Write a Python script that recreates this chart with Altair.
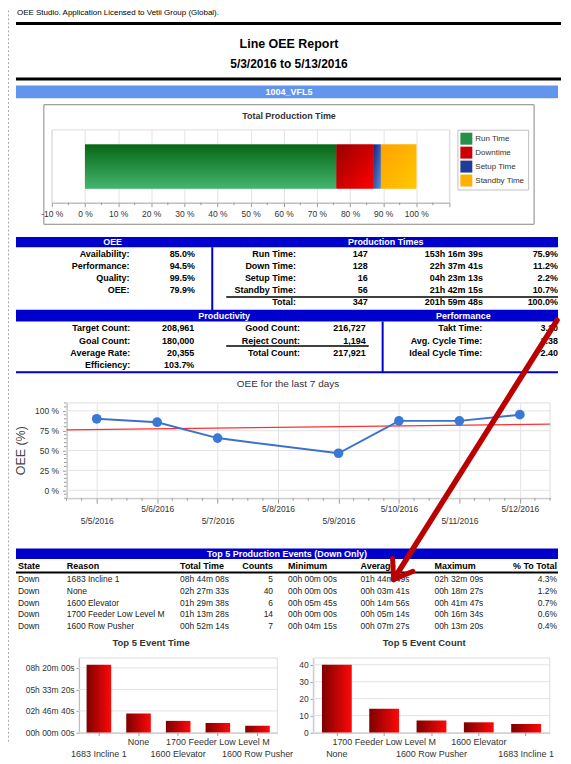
import json
import math
import altair as alt
import pandas as pd

FONT = "Liberation Sans"
W = 555
BLUE = "#0000cc"
ONE = pd.DataFrame({"k": [0]})

# ------------------------------------------------------------------ data
license_text = "OEE Studio. Application Licensed to Vetii Group (Global)."
report_title = "Line OEE Report"
report_range = "5/3/2016 to 5/13/2016"
line_name = "1004_VFL5"

time_categories = ["Run Time", "Downtime", "Setup Time", "Standby Time"]
time_pct = [75.9, 11.2, 2.2, 10.7]

oee_labels = ["Availability:", "Performance:", "Quality:", "OEE:"]
oee_values = ["85.0%", "94.5%", "99.5%", "79.9%"]

pt_labels = ["Run Time:", "Down Time:", "Setup Time:", "Standby Time:", "Total:"]
pt_counts = ["147", "128", "16", "56", "347"]
pt_durations = ["153h 16m 39s", "22h 37m 41s", "04h 23m 13s", "21h 42m 15s", "201h 59m 48s"]
pt_pct = ["75.9%", "11.2%", "2.2%", "10.7%", "100.0%"]

prod_labels = ["Target Count:", "Goal Count:", "Average Rate:", "Efficiency:"]
prod_values = ["208,961", "180,000", "20,355", "103.7%"]
count_labels = ["Good Count:", "Reject Count:", "Total Count:"]
count_values = ["216,727", "1,194", "217,921"]
perf_labels = ["Takt Time:", "Avg. Cycle Time:", "Ideal Cycle Time:"]
perf_values = ["3.10", "3.38", "2.40"]

trend_dates = ["5/5/2016", "5/6/2016", "5/7/2016", "5/9/2016", "5/10/2016", "5/11/2016", "5/12/2016"]
trend_oee = [90.0, 85.7, 65.7, 46.6, 87.4, 87.4, 95.2]
trend_tick_labels = ["5/5/2016", "5/6/2016", "5/7/2016", "5/8/2016",
                     "5/9/2016", "5/10/2016", "5/11/2016", "5/12/2016"]
oee_ticks = [0, 25, 50, 75, 100]

ev_headers = ["State", "Reason", "Total Time", "Counts", "Minimum", "Average", "Maximum", "% To Total"]
ev_state = ["Down", "Down", "Down", "Down", "Down"]
ev_reason = ["1683 Incline 1", "None", "1600 Elevator", "1700 Feeder Low Level M", "1600 Row Pusher"]
ev_total = ["08h 44m 08s", "02h 27m 33s", "01h 29m 38s", "01h 13m 28s", "00h 52m 14s"]
ev_counts = [5, 40, 6, 14, 7]
ev_min = ["00h 00m 00s", "00h 00m 00s", "00h 05m 45s", "00h 00m 00s", "00h 04m 15s"]
ev_avg = ["01h 44m 49s", "00h 03m 41s", "00h 14m 56s", "00h 05m 14s", "00h 07m 27s"]
ev_max = ["02h 32m 09s", "00h 18m 27s", "00h 41m 47s", "00h 16m 34s", "00h 13m 20s"]
ev_pct = ["4.3%", "1.2%", "0.7%", "0.6%", "0.4%"]
event_time_ticks = [0, 10000, 20000, 30000]
event_count_ticks = [0, 10, 20, 30, 40]


# ------------------------------------------------------------------ helpers
def txt(s, x, y, size=9.0, bold=False, color="#000000", align="center", angle=0):
    return alt.Chart(ONE).mark_text(
        text=s, font=FONT, fontSize=size, fontWeight="bold" if bold else "normal",
        color=color, align=align, baseline="middle", angle=angle
    ).encode(x=alt.value(x), y=alt.value(y))


def hline(x1, x2, y, color="#000000", w=1.0):
    return alt.Chart(ONE).mark_rule(color=color, strokeWidth=w).encode(
        x=alt.value(x1), x2=alt.value(x2), y=alt.value(y))


def vline(x, y1, y2, color="#000000", w=1.0, dash=None):
    kw = {"color": color, "strokeWidth": w}
    if dash:
        kw["strokeDash"] = dash
    return alt.Chart(ONE).mark_rule(**kw).encode(
        x=alt.value(x), y=alt.value(y1), y2=alt.value(y2))


def seg(p, q, color, w):
    return alt.Chart(ONE).mark_rule(color=color, strokeWidth=w, strokeCap="round").encode(
        x=alt.value(p[0]), y=alt.value(p[1]), x2=alt.value(q[0]), y2=alt.value(q[1]))


def rect(x1, x2, y1, y2, fill="transparent", stroke="transparent", sw=1.0):
    return alt.Chart(ONE).mark_rect(fill=fill, stroke=stroke, strokeWidth=sw).encode(
        x=alt.value(x1), x2=alt.value(x2), y=alt.value(y1), y2=alt.value(y2))


def column(values, x, align="right", bold=True, size=9.0, color="#000000"):
    d = pd.DataFrame({"r": list(range(len(values))), "t": [str(v) for v in values]})
    return alt.Chart(d).mark_text(
        font=FONT, fontSize=size, fontWeight="bold" if bold else "normal",
        color=color, align=align, baseline="middle"
    ).encode(x=alt.value(x), y=alt.Y("r:O", axis=None), text="t:N")


def spacer(h):
    return alt.Chart(ONE).mark_text(text="").encode(
        x=alt.value(0), y=alt.value(0)).properties(width=W, height=h)


def grad(c1, c2, x2=0, y2=1):
    return alt.LinearGradient(gradient="linear", x1=0, y1=0, x2=x2, y2=y2,
                              stops=[alt.GradientStop(offset=0, color=c1),
                                     alt.GradientStop(offset=1, color=c2)])


def to_secs(s):
    h, m, sec = [int(p[:-1]) for p in s.split()]
    return h * 3600 + m * 60 + sec


TICK = "#999999"

# ------------------------------------------------------------------ R1 header
H1 = 120.8
r1 = alt.layer(
    vline(0.5, 1, 736, color="#aaaaaa", dash=[2, 2]),
    txt(license_text, 9, 4, size=8, align="left"),
    hline(8, W, 14.2, w=3),
    txt(report_title, 282, 35, size=12.5, bold=True),
    txt(report_range, 282, 55, size=12, bold=True),
    hline(8, W, 70, w=3),
    rect(8, 552, 76.3, 89.3, fill="#6495ed"),
    txt(line_name, 282, 82.8, size=9, bold=True, color="#ffffff"),
).properties(width=W, height=H1)

# ------------------------------------------------------------------ R2 total production time
pt_df = pd.DataFrame({"cat": time_categories, "pct": time_pct,
                      "idx": list(range(len(time_categories)))})
stacked = alt.Chart(pt_df).transform_window(
    cum="sum(pct)", sort=[alt.SortField("idx")], frame=[None, 0]
).transform_calculate(start="datum.cum - datum.pct")

H2 = 73
x_pt = alt.Scale(domain=[-10, 110], range=[44, 443], nice=False, zero=False)
ax_pt = alt.Axis(
    values=list(range(-10, 111, 10)), title=None,
    labelExpr="datum.value <= 100 ? datum.value + ' %' : ''",
    tickSize=4, grid=True, gridColor="#e3e3e3",
    labelFontSize=8.5, labelPadding=3, labelOverlap=False, labelFlush=False,
)
time_solid = ["#25904a", "#cc0000", "#1f3c96", "#ffb000"]
time_grads = [grad("#086614", "#42b56e", 0, 1), grad("#990000", "#ff0000", 1, 1),
              grad("#14238a", "#5b8fd3", 1, 1), grad("#ffa200", "#ffc800", 1, 1)]
BAR_Y = dict(y=alt.value(14.7), y2=alt.value(58.7))
legend_layer = stacked.mark_bar().encode(
    x=alt.X("start:Q", scale=x_pt, axis=ax_pt), x2="cum:Q",
    color=alt.Color("cat:N", scale=alt.Scale(domain=time_categories, range=time_solid),
                    legend=alt.Legend(title=None, orient="none", legendX=451, legendY=H1,
                                      direction="vertical", symbolType="square", symbolSize=144,
                                      symbolStrokeWidth=0, labelFontSize=8, labelColor="#333333",
                                      rowPadding=2, padding=3, labelOffset=3,
                                      strokeColor="#c0c0c0", fillColor="#ffffff")),
    **BAR_Y,
)
grad_layers = [
    stacked.transform_filter(alt.datum.cat == c).mark_bar(color=g).encode(
        x=alt.X("start:Q", scale=x_pt, axis=ax_pt), x2="cum:Q", **BAR_Y)
    for c, g in zip(time_categories, time_grads)
]
minor2 = alt.Chart(pd.DataFrame({"m": [v for v in range(-10, 111, 5) if v % 10]})).mark_rule(
    color=TICK).encode(x=alt.X("m:Q", scale=x_pt, axis=ax_pt), y=alt.value(H2), y2=alt.value(H2 + 2.5))
r2 = alt.layer(
    rect(36, 528, -25.3, 94.7, stroke="#888888"),
    txt("Total Production Time", 282, -14.3, size=9, bold=True, color="#333333"),
    rect(44, 443, 0, H2, stroke="#dddddd"),
    legend_layer, *grad_layers, minor2,
).properties(width=W, height=H2)

# ------------------------------------------------------------------ R4 OEE / production times
r4 = alt.layer(
    rect(8, 552, -11.5, -1.3, fill=BLUE),
    txt("OEE", 105, -6.4, bold=True, color="#ffffff"),
    txt("Production Times", 379, -6.4, bold=True, color="#ffffff"),
    vline(205, -1.3, 62, color=BLUE, w=2),
    hline(219, 552, 48.7, w=1.5),
    column(oee_labels, 122), column(oee_values, 187.7),
    column(pt_labels, 289), column(pt_counts, 361),
    column(pt_durations, 476.7), column(pt_pct, 552),
).properties(width=W, height=60)

# ------------------------------------------------------------------ R6 productivity / performance
r6 = alt.layer(
    rect(8, 552, -12.5, -0.7, fill=BLUE),
    txt("Productivity", 217, -6.3, bold=True, color="#ffffff"),
    txt("Performance", 457, -6.3, bold=True, color="#ffffff"),
    vline(376, -0.7, 51, color=BLUE, w=2),
    hline(8, 552, 50.2, color=BLUE, w=2),
    hline(219, 362, 23.8, w=1.5),
    column(prod_labels, 122.7), column(prod_values, 187),
    column(count_labels, 293), column(count_values, 359),
    column(perf_labels, 476), column(perf_values, 552),
).properties(width=W, height=49.6)

# ------------------------------------------------------------------ R8 OEE line chart
tr = pd.DataFrame({"date": trend_dates, "oee": trend_oee})
tr["day"] = pd.to_datetime(tr["date"], format="%m/%d/%Y").dt.day.astype(float)
first_day = int(pd.to_datetime(trend_tick_labels[0], format="%m/%d/%Y").day)
last_day = first_day + len(trend_tick_labels) - 1
x_lo, x_hi = first_day - 0.5, last_day + 0.5
arr = json.dumps(trend_tick_labels)
H8 = 95.6
XL8, XR8 = 58.7, 544
xs = alt.Scale(domain=[x_lo, x_hi], range=[XL8, XR8], nice=False, zero=False)
ys = alt.Scale(domain=[-10, 110], nice=False, zero=False)
x_axis8 = alt.Axis(
    values=list(range(first_day, last_day + 1)), title=None,
    labelExpr=(f"(datum.value - {first_day}) % 2 == 0 ? "
               f"['', {arr}[datum.value - {first_day}]] : {arr}[datum.value - {first_day}]"),
    tickSize=5, grid=True, gridColor="#e3e3e3",
    labelFontSize=8.5, labelPadding=1, labelBaseline="top", labelLineHeight=12.5,
    labelOverlap=False, labelFlush=False,
)
y_axis8 = alt.Axis(
    values=oee_ticks, title=None, orient="left", offset=-XL8,
    labelExpr="datum.value + ' %'", tickSize=4,
    grid=False, labelFontSize=8.5, labelPadding=4, labelOverlap=False, labelFlush=False,
)
X8 = alt.X("day:Q", scale=xs, axis=x_axis8)
Y8 = alt.Y("oee:Q", scale=ys, axis=y_axis8)
grid8 = alt.Chart(pd.DataFrame({"v": oee_ticks})).mark_rule(color="#e3e3e3").encode(
    y=alt.Y("v:Q", scale=ys, axis=y_axis8), x=alt.value(XL8), x2=alt.value(XR8))
xminor8 = [x_lo + 0.25 * i for i in range(int((x_hi - x_lo) / 0.25) + 1)]
xminor8 = [v for v in xminor8 if v % 1 != 0]
minorx8 = alt.Chart(pd.DataFrame({"m": xminor8})).mark_rule(color=TICK).encode(
    x=alt.X("m:Q", scale=xs, axis=x_axis8), y=alt.value(H8), y2=alt.value(H8 + 2.5))
yminor8 = [v for v in range(-10, 111, 5) if v not in oee_ticks]
minory8 = alt.Chart(pd.DataFrame({"m": yminor8})).mark_rule(color=TICK).encode(
    y=alt.Y("m:Q", scale=ys, axis=y_axis8), x=alt.value(XL8 - 2.5), x2=alt.value(XL8))
trend = alt.Chart(tr).transform_regression("day", "oee", extent=[x_lo, x_hi]).mark_line(
    color="#ff3030", strokeWidth=1.2).encode(x=X8, y=Y8)
line8 = alt.Chart(tr).mark_line(color="#3b70cf", strokeWidth=2).encode(x=X8, y=Y8)
pts8 = alt.Chart(tr).mark_circle(size=95, color="#3a78d6", opacity=1).encode(x=X8, y=Y8)
r8 = alt.layer(
    grid8, rect(XL8, XR8, 0, H8, stroke="#dddddd"), minorx8, minory8, trend, line8, pts8,
    txt("OEE for the last 7 days", 281, -18.7, size=10, color="#333333"),
    txt("OEE (%)", 13, 48, size=12.5, color="#444444", angle=270),
).properties(width=W, height=H8)

# ------------------------------------------------------------------ R10 events table (+ arrow)
hdr_pos = [(10, "left"), (59, "left"), (172.7, "left"), (266, "right"),
           (281, "left"), (353.8, "left"), (428, "left"), (551, "right")]
ev_cols = [ev_state, ev_reason, ev_total, ev_counts, ev_min, ev_avg, ev_max, ev_pct]
tip = (387.0, 6.2)
tail = (551.0, -254.0)
ux, uy = tail[0] - tip[0], tail[1] - tip[1]
L = math.hypot(ux, uy)
ux, uy = ux / L, uy / L
arms = []
for ang in (35, -35):
    a = math.radians(ang)
    ax_ = ux * math.cos(a) - uy * math.sin(a)
    ay_ = ux * math.sin(a) + uy * math.cos(a)
    arms.append((tip[0] + 21 * ax_, tip[1] + 21 * ay_))
RED = "#bb0000"
r10 = alt.layer(
    rect(8, 552, -24.8, -14.3, fill=BLUE),
    txt("Top 5 Production Events (Down Only)", 280, -19.5, bold=True, color="#ffffff"),
    *[txt(h, x, -7.8, bold=True, align=a) for h, (x, a) in zip(ev_headers, hdr_pos)],
    hline(8, 552, -0.8, w=2),
    *[column(c, x, align=a, bold=False, size=8.5, color="#222222") for c, (x, a) in zip(ev_cols, hdr_pos)],
    seg(tail, tip, RED, 5.5), seg(tip, arms[0], RED, 5), seg(tip, arms[1], RED, 5),
).properties(width=W, height=59)

# ------------------------------------------------------------------ R12 bottom bar charts
H12 = 74.7
secs = [to_secs(s) for s in ev_total]
et = pd.DataFrame({"reason": ev_reason, "secs": secs}).sort_values("secs", ascending=False)
ct = pd.DataFrame({"reason": ev_reason, "n": ev_counts}).sort_values("n", ascending=False)
time_order = list(et["reason"])
count_order = list(ct["reason"])
bar_grad = grad("#7d0000", "#ff0808", 1, 0)


def stagger(order):
    return f"indexof({json.dumps(order)}, datum.value) % 2 == 0 ? ['', datum.value] : datum.value"


def x_axis_b(order):
    return alt.Axis(orient="bottom", title=None, labelExpr=stagger(order), labelFontSize=9,
                    labelBaseline="top", labelLineHeight=11.5, labelPadding=2.5, tickSize=3,
                    labelAngle=0, labelOverlap=False, labelFlush=False, labelLimit=0)


fmt = ("(floor(datum.value/3600) < 10 ? '0' : '') + floor(datum.value/3600) + 'h ' + "
       "(floor(datum.value%3600/60) < 10 ? '0' : '') + floor(datum.value%3600/60) + 'm ' + "
       "(floor(datum.value%60) < 10 ? '0' : '') + floor(datum.value%60) + 's'")
LX1, LX2 = 71.3, 270.3
RX1, RX2 = 306.3, 543.7
xL = alt.Scale(domain=time_order, range=[LX1, LX2], paddingInner=0.38, paddingOuter=0.19)
yL = alt.Scale(domain=[0, max(secs) * 1.1], nice=False, zero=True)
yL_axis = alt.Axis(orient="left", offset=-LX1, values=event_time_ticks, title=None,
                   labelExpr=fmt, labelFontSize=8.5, tickSize=3, grid=False, labelPadding=2)
left = alt.layer(
    alt.Chart(pd.DataFrame({"v": event_time_ticks})).mark_rule(color="#e3e3e3").encode(
        y=alt.Y("v:Q", scale=yL, axis=yL_axis), x=alt.value(LX1), x2=alt.value(LX2)),
    rect(LX1, LX2, 0, H12, stroke="#dddddd"),
    alt.Chart(et).mark_bar(color=bar_grad).encode(
        x=alt.X("reason:N", scale=xL, sort=None, axis=x_axis_b(time_order)),
        y=alt.Y("secs:Q", scale=yL, axis=yL_axis)),
    txt("Top 5 Event Time", 143.7, -15.3, size=9.5, bold=True, color="#333333"),
)
xR = alt.Scale(domain=count_order, range=[RX1, RX2], paddingInner=0.37, paddingOuter=0.185)
yR = alt.Scale(domain=[0, max(ev_counts) * 1.1], nice=False, zero=True)
yR_axis = alt.Axis(orient="left", offset=-RX1, values=event_count_ticks, title=None,
                   labelFontSize=8.5, tickSize=3, grid=False, labelPadding=2)
right = alt.layer(
    alt.Chart(pd.DataFrame({"v": event_count_ticks})).mark_rule(color="#e3e3e3").encode(
        y=alt.Y("v:Q", scale=yR, axis=yR_axis), x=alt.value(RX1), x2=alt.value(RX2)),
    rect(RX1, RX2, 0, H12, stroke="#dddddd"),
    alt.Chart(ct).mark_bar(color=bar_grad).encode(
        x=alt.X("reason:N", scale=xR, sort=None, axis=x_axis_b(count_order)),
        y=alt.Y("n:Q", scale=yR, axis=yR_axis)),
    txt("Top 5 Event Count", 417.7, -15, size=9.5, bold=True, color="#333333"),
)
r12 = alt.layer(left, right).resolve_scale(x="independent", y="independent").properties(
    width=W, height=H12)

# ------------------------------------------------------------------ assemble
chart = alt.vconcat(
    r1, r2, spacer(45.7), r4, spacer(13.5), r6, spacer(30.6), r8, spacer(74.5), r10,
    spacer(25.2), r12, spacing=0, bounds="flush",
).properties(padding=0, background="white").configure_view(strokeWidth=0).configure_axis(
    labelFont=FONT, titleFont=FONT, labelColor="#333333", domainColor="#999999",
    tickColor=TICK).configure_legend(labelFont=FONT)

chart.save("out.html", embed_options={"renderer": "svg", "actions": False})
